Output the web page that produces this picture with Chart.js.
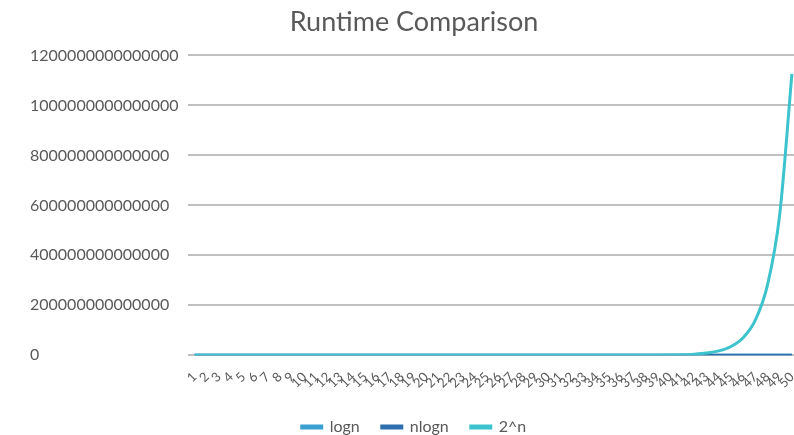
<!DOCTYPE html>
<html lang="en">

<head>
    <meta charset="UTF-8">
    <title>Runtime Comparison</title>
    <script src="https://cdn.jsdelivr.net/npm/chart.js"></script>
    <style>
        body { margin: 0; overflow: hidden; background: #fff; }
    </style>
</head>

<body>
    <div style="position: relative; width: 830px; height: 449px;">
        <canvas id="myChart"></canvas>
    </div>
</body>
<script>
    const labels = ['1', '2', '3', '4', '5', '6', '7', '8', '9', '10', '11', '12', '13', '14', '15', '16', '17', '18', '19', '20',
        '21', '22', '23', '24', '25', '26', '27', '28', '29', '30', '31', '32', '33', '34', '35', '36', '37', '38', '39', '40',
        '41', '42', '43', '44', '45', '46', '47', '48', '49', '50'];

    const logn = [0, 1, 1.58, 2, 2.32, 2.58, 2.81, 3, 3.17, 3.32, 3.46, 3.58, 3.7, 3.81, 3.91, 4, 4.09, 4.17, 4.25, 4.32,
        4.39, 4.46, 4.52, 4.58, 4.64, 4.7, 4.75, 4.81, 4.86, 4.91, 4.95, 5, 5.04, 5.09, 5.13, 5.17, 5.21, 5.25, 5.29, 5.32,
        5.36, 5.39, 5.43, 5.46, 5.49, 5.52, 5.55, 5.58, 5.61, 5.64];

    const nlogn = [0, 2, 4.75, 8, 11.61, 15.51, 19.65, 24, 28.53, 33.22, 38.05, 43.02, 48.11, 53.3, 58.6, 64, 69.49, 75.06, 80.71, 86.44,
        92.24, 98.11, 104.04, 110.04, 116.1, 122.21, 128.38, 134.61, 140.88, 147.21, 153.58, 160, 166.47, 172.97, 179.52, 186.12, 192.75, 199.42, 206.13, 212.88,
        219.66, 226.48, 233.33, 240.21, 247.13, 254.08, 261.06, 268.08, 275.12, 282.19];

    const pow2 = [2, 4, 8, 16, 32, 64, 128, 256, 512, 1024, 2048, 4096, 8192, 16384, 32768, 65536, 131072, 262144, 524288, 1048576,
        2097152, 4194304, 8388608, 16777216, 33554432, 67108864, 134217728, 268435456, 536870912, 1073741824,
        2147483648, 4294967296, 8589934592, 17179869184, 34359738368, 68719476736, 137438953472, 274877906944, 549755813888, 1099511627776,
        2199023255552, 4398046511104, 8796093022208, 17592186044416, 35184372088832, 70368744177664, 140737488355328, 281474976710656,
        562949953421312, 1125899906842624];

    const yMax = 1200000000000000;
    const yStep = 200000000000000;

    const gray = '#595959';
    Chart.defaults.font.family = 'Lato, "Open Sans", sans-serif';
    Chart.defaults.color = gray;

    const ctx = document.getElementById('myChart');
    new Chart(ctx, {
        type: 'line',
        data: {
            labels: labels,
            datasets: [
                { label: 'logn', data: logn, borderColor: '#3a9fd1', backgroundColor: '#3a9fd1', order: 2 },
                { label: 'nlogn', data: nlogn, borderColor: '#2d6eae', backgroundColor: '#2d6eae', order: 1 },
                { label: '2^n', data: pow2, borderColor: '#3cc3cd', backgroundColor: '#3cc3cd', order: 0 }
            ]
        },
        options: {
            responsive: true,
            maintainAspectRatio: false,
            animation: false,
            layout: {
                padding: { left: 30, right: 32, top: 4, bottom: 4 }
            },
            elements: {
                point: { radius: 0 },
                line: { borderWidth: 3, cubicInterpolationMode: 'monotone' }
            },
            scales: {
                x: {
                    offset: true,
                    grid: { display: false },
                    border: { display: false },
                    ticks: {
                        autoSkip: false,
                        maxRotation: 45,
                        minRotation: 45,
                        padding: 6,
                        font: { size: 13 }
                    }
                },
                y: {
                    min: 0,
                    max: yMax,
                    border: { display: false },
                    grid: { color: '#c0c0c0', lineWidth: 2, drawTicks: false },
                    ticks: {
                        stepSize: yStep,
                        padding: 5,
                        crossAlign: 'far',
                        font: { size: 16 },
                        callback: (v) => String(Math.round(v))
                    }
                }
            },
            plugins: {
                title: {
                    display: true,
                    text: 'Runtime Comparison',
                    font: { size: 27, weight: 'normal' },
                    padding: { top: 2, bottom: 17 }
                },
                legend: {
                    position: 'bottom',
                    labels: {
                        boxWidth: 20,
                        boxHeight: 2,
                        padding: 22,
                        font: { size: 16 },
                        sort: (a, b) => a.datasetIndex - b.datasetIndex
                    }
                },
                tooltip: { enabled: false }
            }
        }
    });
</script>

</html>
